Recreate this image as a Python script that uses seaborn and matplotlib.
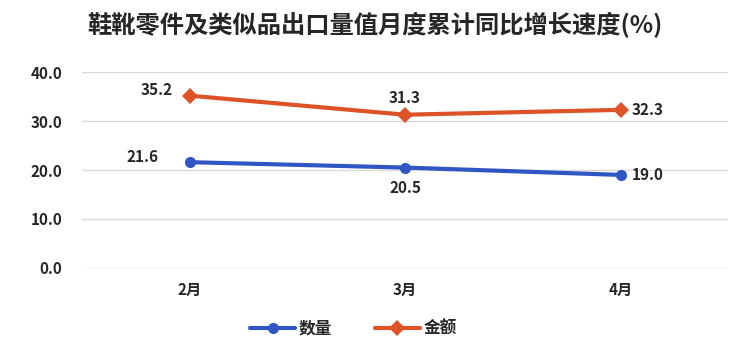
import matplotlib
matplotlib.use("Agg")
import matplotlib.pyplot as plt
import seaborn as sns
import pandas as pd

months = ["2月", "3月", "4月"]
quantity = [21.6, 20.5, 19.0]
value = [35.2, 31.3, 32.3]
yticks = [0, 10, 20, 30, 40]
title = "鞋靴零件及类似品出口量值月度累计同比增长速度(%)"

sns.set_theme(style="white")
plt.rcParams['font.family'] = ['Noto Sans CJK SC', 'DejaVu Sans']

df = pd.DataFrame({"月份": months * 2,
                   "增速": quantity + value,
                   "指标": ["数量"] * 3 + ["金额"] * 3})

fig = plt.figure(figsize=(7.5, 3.52), dpi=100)
ax = fig.add_axes([0.109, 0.239, 0.862, 0.556])

blue = "#2F56C4"
orange = "#DD5327"
sns.lineplot(data=df, x="月份", y="增速", hue="指标", style="指标",
             markers={"数量": "o", "金额": "D"}, dashes=False,
             palette={"数量": blue, "金额": orange}, linewidth=3,
             markersize=8, markeredgewidth=0, ax=ax, sort=False)

ax.set_xlim(-0.5, 2.5)
ax.set_ylim(0, 40)
ax.set_yticks(yticks)
ax.set_yticklabels([f"{t:.1f}" for t in yticks], fontweight="bold", fontsize=11)
ax.set_xticks(range(len(months)))
ax.set_xticklabels(months, fontweight="bold", fontsize=11)
ax.tick_params(axis="x", pad=10, length=0)
ax.tick_params(axis="y", pad=14, length=0)
ax.yaxis.grid(True, color="#d9d9d9", linewidth=1)
ax.set_axisbelow(True)
for s in ax.spines.values():
    s.set_visible(False)
ax.set_xlabel("")
ax.set_ylabel("")

# labels
offsets_q = [(-22, 4, "right", "center"), (0, -9, "center", "top"), (8, 0, "left", "center")]
offsets_v = [(-12, 4, "right", "center"), (0, 6, "center", "bottom"), (8, 0, "left", "center")]
for i, v in enumerate(quantity):
    dx, dy, ha, va = offsets_q[i]
    ax.annotate(f"{v:.1f}", (i, v), xytext=(dx, dy), textcoords="offset points",
                ha=ha, va=va, fontweight="bold", fontsize=11)
for i, v in enumerate(value):
    dx, dy, ha, va = offsets_v[i]
    ax.annotate(f"{v:.1f}", (i, v), xytext=(dx, dy), textcoords="offset points",
                ha=ha, va=va, fontweight="bold", fontsize=11)

leg = ax.legend(loc="center", bbox_to_anchor=(0.42, -0.31), ncol=2, frameon=False,
                prop={"weight": "bold", "size": 12}, handlelength=2.7, columnspacing=2.6,
                handletextpad=0.2)

fig.suptitle(title, fontsize=17.5, fontweight="bold", y=0.965)
fig.savefig("out.png", dpi=100)
